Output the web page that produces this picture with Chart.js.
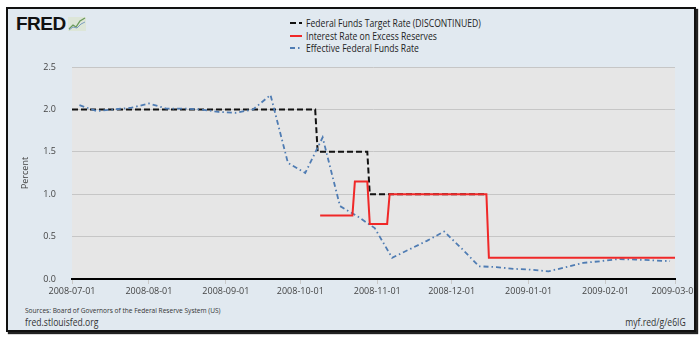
<!DOCTYPE html>
<html>
<head>
<meta charset="utf-8">
<script src="https://cdn.jsdelivr.net/npm/chart.js@4.4.1/dist/chart.umd.min.js"></script>
<style>
    body { margin: 0; background: #fff; font-family: 'Open Sans', sans-serif; }
    #frame {
        position: absolute; left: 6px; top: 7px; width: 686px; height: 321px;
        border: 2px solid #111; background: #e1e9f0;
        box-shadow: 2px 2px 1px #222;
    }
    #clip { position: absolute; left: 0; top: 0; width: 694px; height: 340px; overflow: hidden; }
    .txt { position: absolute; white-space: nowrap; color: #333; transform-origin: left top; }
    .cond { transform: scaleX(0.82); }
    #logo { position: absolute; left: 16px; top: 13px; font-family: 'Liberation Sans', sans-serif; font-weight: 900; font-size: 19px; color: #111; letter-spacing: -0.5px; }
    #legend { position: absolute; left: 290px; top: 17px; }
    .row { height: 12.5px; display: flex; align-items: center; }
    .row span { font-size: 10.5px; color: #222; display: inline-block; transform: scaleX(0.82); transform-origin: left center; margin-left: 4px; }
</style>
</head>
<body>
<div id="frame"></div>
<div id="logo">FRED<svg width="18" height="14" style="margin-left:2px;vertical-align:-1px"><rect x="0" y="0" width="18" height="14" fill="#dde6d8"/><polyline points="1,12 5,8 8,10 12,4 17,1" fill="none" stroke="#6a9a5a" stroke-width="1.3"/><polyline points="1,13 5,10 9,11 13,7 17,5" fill="none" stroke="#7a9cc0" stroke-width="1"/></svg></div>
<div id="legend">
    <div class="row"><svg width="12" height="4"><line x1="0" y1="2" x2="12" y2="2" stroke="#111" stroke-width="2" stroke-dasharray="6,3"/></svg><span>Federal Funds Target Rate (DISCONTINUED)</span></div>
    <div class="row"><svg width="12" height="4"><line x1="0" y1="2" x2="12" y2="2" stroke="#f02828" stroke-width="2"/></svg><span>Interest Rate on Excess Reserves</span></div>
    <div class="row"><svg width="12" height="4"><line x1="0" y1="2" x2="12" y2="2" stroke="#4f7cb3" stroke-width="2" stroke-dasharray="5,3,1.5,3"/></svg><span>Effective Federal Funds Rate</span></div>
</div>
<div class="txt cond" style="left:25px;top:304px;font-size:8px;">Sources: Board of Governors of the Federal Reserve System (US)</div>
<div class="txt cond" style="left:25px;top:315px;font-size:10.5px;">fred.stlouisfed.org</div>
<div class="txt" style="right:14px;top:315px;font-size:10.5px;transform:scaleX(0.82);transform-origin:right top;">myf.red/g/e6IG</div>
<div id="clip"><canvas id="chart" width="700" height="340"></canvas></div>
<script>
// Datos (FRED, jul 2008 - mar 2009)
const tickDates = ['2008-07-01', '2008-08-01', '2008-09-01', '2008-10-01', '2008-11-01',
    '2008-12-01', '2009-01-01', '2009-02-01', '2009-03-01'];
const yTicks = [0, 0.5, 1.0, 1.5, 2.0, 2.5];

// Federal Funds Target Rate (puntos de cambio)
const ftrDates = ['2008-07-01', '2008-10-07', '2008-10-08', '2008-10-28', '2008-10-29', '2008-12-15'];
const ftrValues = [2.0, 2.0, 1.5, 1.5, 1.0, 1.0];

// Interest Rate on Excess Reserves
const ioerDates = ['2008-10-09', '2008-10-22', '2008-10-23', '2008-10-28', '2008-10-29',
    '2008-11-05', '2008-11-06', '2008-12-15', '2008-12-16', '2009-03-01'];
const ioerValues = [0.75, 0.75, 1.15, 1.15, 0.65, 0.65, 1.0, 1.0, 0.25, 0.25];

// Effective Federal Funds Rate (semanal)
const effDates = ['2008-07-04', '2008-07-11', '2008-07-18', '2008-07-25', '2008-08-01', '2008-08-08',
    '2008-08-15', '2008-08-22', '2008-08-29', '2008-09-05', '2008-09-12', '2008-09-19', '2008-09-26',
    '2008-10-03', '2008-10-10', '2008-10-17', '2008-10-24', '2008-10-31', '2008-11-07', '2008-11-14',
    '2008-11-21', '2008-11-28', '2008-12-05', '2008-12-12', '2008-12-19', '2008-12-26', '2009-01-02',
    '2009-01-09', '2009-01-16', '2009-01-23', '2009-01-30', '2009-02-06', '2009-02-13', '2009-02-20',
    '2009-02-27'];
const effValues = [2.05, 1.98, 2.00, 2.02, 2.07, 2.01, 2.01, 2.00, 1.97, 1.96, 2.00, 2.17, 1.37,
    1.25, 1.67, 0.86, 0.74, 0.60, 0.25, 0.35, 0.45, 0.56, 0.36, 0.15, 0.14, 0.12, 0.11,
    0.09, 0.14, 0.19, 0.21, 0.235, 0.23, 0.22, 0.21];

// Días desde 2008-07-01
function dayNum(s) {
    const p = s.split('-').map(Number);
    return (Date.UTC(p[0], p[1] - 1, p[2]) - Date.UTC(2008, 6, 1)) / 86400000;
}
function toPoints(dates, values) {
    return dates.map((d, i) => ({ x: dayNum(d), y: values[i] }));
}
const tickDays = tickDates.map(dayNum);

// Fondo gris del área del gráfico
const plotBg = {
    id: 'plotBg',
    beforeDraw(chart) {
        const { ctx, chartArea: a } = chart;
        ctx.save();
        ctx.fillStyle = '#e6e6e6';
        ctx.fillRect(a.left, a.top, a.right - a.left, a.bottom - a.top);
        ctx.restore();
    }
};

const ctx = document.getElementById('chart').getContext('2d');
new Chart(ctx, {
    type: 'line',
    data: {
        datasets: [{
            label: 'Federal Funds Target Rate (DISCONTINUED)',
            data: toPoints(ftrDates, ftrValues),
            borderColor: '#111',
            borderWidth: 2,
            borderDash: [6, 3],
            order: 3
        }, {
            label: 'Interest Rate on Excess Reserves',
            data: toPoints(ioerDates, ioerValues),
            borderColor: '#f02828',
            borderWidth: 2,
            order: 1
        }, {
            label: 'Effective Federal Funds Rate',
            data: toPoints(effDates, effValues),
            borderColor: '#4f7cb3',
            borderWidth: 1.8,
            borderDash: [5, 3, 1.5, 3],
            order: 2
        }]
    },
    options: {
        responsive: false,
        animation: false,
        parsing: false,
        elements: { point: { radius: 0 }, line: { tension: 0, fill: false } },
        layout: { padding: { left: 0, top: 67, right: 25, bottom: 0 } },
        plugins: { legend: { display: false }, tooltip: { enabled: false } },
        scales: {
            x: {
                type: 'linear',
                min: 0,
                max: tickDays[tickDays.length - 1],
                afterBuildTicks: (scale) => { scale.ticks = tickDays.map(v => ({ value: v })); },
                afterFit: (scale) => { scale.height = 61; scale.paddingLeft = 0; scale.paddingRight = 0; },
                ticks: {
                    autoSkip: false,
                    maxRotation: 0,
                    padding: 2,
                    color: '#444',
                    font: { family: 'Open Sans', size: 9 },
                    callback: (v) => tickDates[tickDays.indexOf(v)]
                },
                grid: { drawOnChartArea: false, tickLength: 5, color: '#c8c8c8' },
                border: { color: '#000', width: 2 }
            },
            y: {
                min: 0,
                max: 2.5,
                afterBuildTicks: (scale) => { scale.ticks = yTicks.map(v => ({ value: v })); },
                afterFit: (scale) => { scale.width = 72; },
                ticks: {
                    padding: 16,
                    color: '#444',
                    font: { family: 'Open Sans', size: 9 },
                    callback: (v) => v.toFixed(1)
                },
                grid: { color: '#c6c6c6', drawTicks: false },
                border: { display: false },
                title: {
                    display: true,
                    text: 'Percent',
                    color: '#444',
                    font: { family: 'Open Sans', size: 9 },
                    padding: { top: 20, bottom: 0 }
                }
            }
        }
    },
    plugins: [plotBg]
});
</script>
</body>
</html>
